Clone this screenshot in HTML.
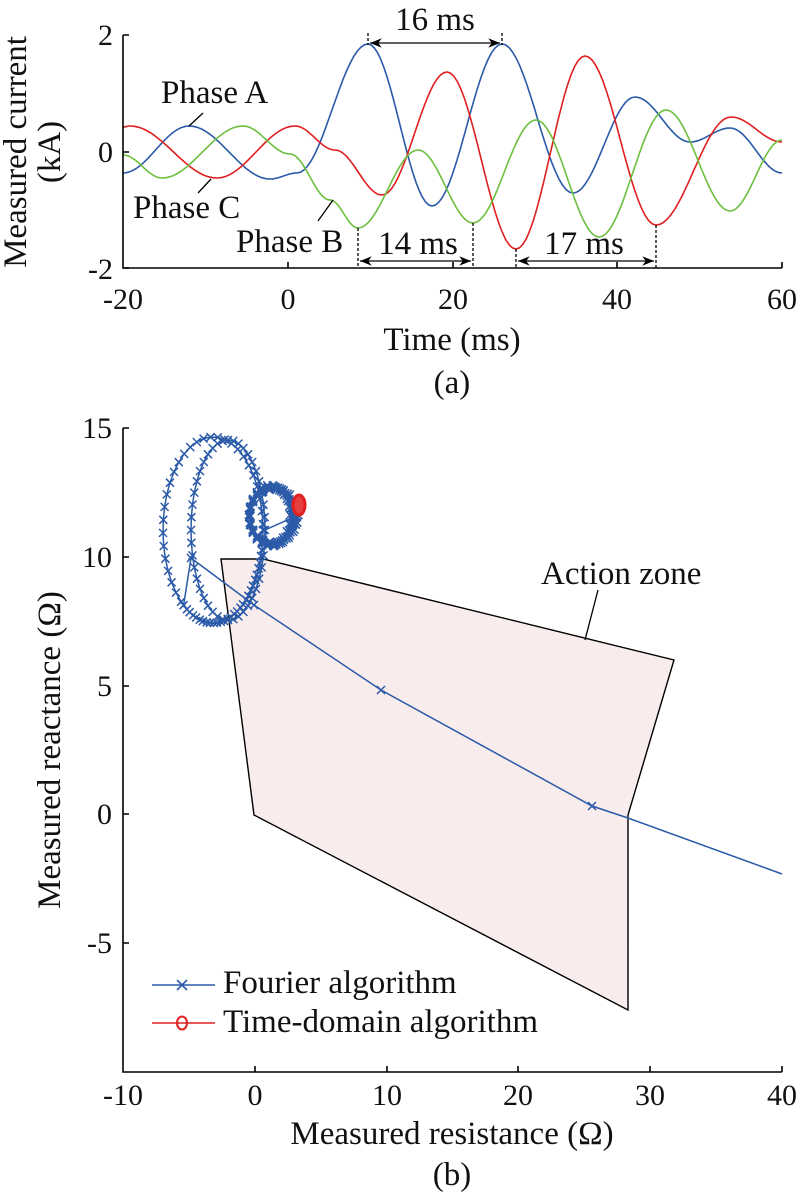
<!DOCTYPE html>
<html><head><meta charset="utf-8"><style>
body{margin:0;background:#fff}
svg{display:block;font-family:"Liberation Serif",serif}
</style></head><body>
<svg id="s" width="800" height="1192" viewBox="0 0 800 1192" xmlns="http://www.w3.org/2000/svg">
<defs>
<marker id="ar" viewBox="0 0 10 10" refX="10" refY="5" markerWidth="9" markerHeight="9" orient="auto-start-reverse"><path d="M0,1 L10,5 L0,9 L3,5z" fill="#000"/></marker>
</defs>
<g id="top" fill="none" stroke-width="1.6"></g>
<g stroke="#000" stroke-width="1.6" fill="none">
<path d="M123,35 V268 H782"/>
<path d="M123,35 h6 M123,152 h6 M123,268 h6 M288,268 v-6 M453,268 v-6 M617,268 v-6 M782,268 v-6"/>
</g>
<g stroke="#000" stroke-width="1.3" fill="none">
<path d="M368,33 V45 M502,33 V45 M358,228 V268 M473,223 V268 M516,249 V268 M656,225 V268" stroke-dasharray="3,2"/>
<path d="M370,43 H500" marker-start="url(#ar)" marker-end="url(#ar)"/>
<path d="M360,261 H471" marker-start="url(#ar)" marker-end="url(#ar)"/>
<path d="M518,261 H654" marker-start="url(#ar)" marker-end="url(#ar)"/>
<path d="M203,113 L189,126 M198,193 L211,179 M318,221 L333,200"/>
</g>
<g font-size="33" fill="#111">
<text x="435" y="30" text-anchor="middle">16 ms</text>
<text x="418" y="254" text-anchor="middle">14 ms</text>
<text x="584" y="254" text-anchor="middle">17 ms</text>
<text x="161" y="103">Phase A</text>
<text x="133" y="218">Phase C</text>
<text x="236" y="252">Phase B</text>
<g font-size="30">
<text x="113" y="45" text-anchor="end">2</text>
<text x="113" y="162" text-anchor="end">0</text>
<text x="113" y="279" text-anchor="end">-2</text>
<g text-anchor="middle">
<text x="123" y="309">-20</text><text x="288" y="309">0</text><text x="453" y="309">20</text><text x="617" y="309">40</text><text x="782" y="309">60</text>
</g></g>
<g text-anchor="middle">
<text x="452" y="350">Time (ms)</text>
<text x="452" y="393">(a)</text>
<text transform="translate(26,152) rotate(-90)">Measured current</text>
<text transform="translate(60,152) rotate(-90)">(kA)</text>
</g>
</g>
<polygon points="221,559 263,559 674,660 628,815 628,1010 254,815" fill="#f8ecec" stroke="#000" stroke-width="1.4"/>
<path d="M598,590 L585,640" stroke="#000" stroke-width="1.3"/>
<g id="bot" fill="none"></g>
<g stroke="#000" stroke-width="1.6" fill="none">
<path d="M123,428 V1072 H782"/>
<path d="M123,428 h6 M123,557 h6 M123,686 h6 M123,814 h6 M123,943 h6 M255,1072 v-6 M387,1072 v-6 M518,1072 v-6 M650,1072 v-6 M782,1072 v-6"/>
</g>
<g font-size="33" fill="#111">
<text x="541" y="584">Action zone</text>
<g text-anchor="end" font-size="30">
<text x="112" y="438">15</text><text x="112" y="567">10</text><text x="112" y="696">5</text><text x="112" y="824">0</text><text x="112" y="953">-5</text>
</g>
<g text-anchor="middle" font-size="30">
<text x="123" y="1105">-10</text><text x="255" y="1105">0</text><text x="387" y="1105">10</text><text x="518" y="1105">20</text><text x="650" y="1105">30</text><text x="782" y="1105">40</text>
</g>
<g text-anchor="middle">
<text x="452" y="1144">Measured resistance (Ω)</text>
<text x="452" y="1185">(b)</text>
<text transform="translate(60,750) rotate(-90)">Measured reactance (Ω)</text>
</g>
<text x="223" y="993">Fourier algorithm</text>
<text x="223" y="1032">Time-domain algorithm</text>
</g>
<g stroke-width="1.6" fill="none">
<path d="M152,985 H215 M177,980 l10,10 M187,980 l-10,10" stroke="#2a5aa8"/>
<path d="M152,1023 H215" stroke="#e02020"/>
<ellipse cx="182" cy="1023" rx="5" ry="6.5" stroke="#e02020" stroke-width="2"/>
</g>
</svg>
<script>
function interp(pts){var d="";for(var i=0;i<pts.length-1;i++){var a=pts[i],b=pts[i+1];for(var k=0;k<=20;k++){var s=k/20,x=a[0]+(b[0]-a[0])*s,y=a[1]+(b[1]-a[1])*(1-Math.cos(Math.PI*s))/2;d+=(d?"L":"M")+x.toFixed(1)+","+y.toFixed(1);}}return d;}
var blue=[[123,173],[189,126],[270,179],[297,173],[368,44],[432,206],[502,44],[573,193],[635,97],[690,142],[730,128],[782,173]];
var red=[[123,127],[130,126],[217,178],[295,126],[335,150],[382,195],[447,72],[516,249],[585,56],[656,225],[731,117],[782,142]];
var green=[[123,155],[162,178],[243,126],[290,154],[330,200],[358,228],[418,150],[473,223],[536,120],[599,237],[666,110],[730,211],[782,140]];
var g=document.getElementById("top");
[[blue,"#2a5aa8"],[red,"#e02020"],[green,"#6cbf3f"]].forEach(function(c){var p=document.createElementNS("http://www.w3.org/2000/svg","path");p.setAttribute("d",interp(c[0]));p.setAttribute("stroke",c[1]);g.appendChild(p);});
var pts=[];
function ell(cx,cy,rx,ry,a0,a1,n){for(var i=0;i<=n;i++){var a=a0+(a1-a0)*i/n;pts.push([cx+rx*Math.cos(a),cy+ry*Math.sin(a)]);}}
for(var k=0;k<7;k++){ell(272+k*0.6-2,515+(k%2)*2,20+k*0.8,30-k*0.5,0,2*Math.PI,22);}
ell(228,530,37,90,0,2*Math.PI,44);
ell(213,530,50,93,0,2.7*Math.PI,60);
var d="",mk="";pts.forEach(function(p,i){d+=(i?"L":"M")+p[0].toFixed(1)+","+p[1].toFixed(1);mk+="M"+(p[0]-4).toFixed(1)+","+(p[1]-4).toFixed(1)+"l8,8m0,-8l-8,8";});
d+="L191,558 L254,605 L381,690 L592,806 L628,818 L782,874";
mk+="M187,554l8,8m0,-8l-8,8M377,686l8,8m0,-8l-8,8M588,802l8,8m0,-8l-8,8M250,601l8,8m0,-8l-8,8";
var b=document.getElementById("bot");
b.innerHTML='<path d="'+d+'" stroke="#2a5aa8" stroke-width="1.5"/><path d="'+mk+'" stroke="#2a5aa8" stroke-width="1.5"/><ellipse cx="299" cy="505" rx="6" ry="10" stroke="#e02020" stroke-width="3" fill="#e84040"/>';
</script>
</body></html>
